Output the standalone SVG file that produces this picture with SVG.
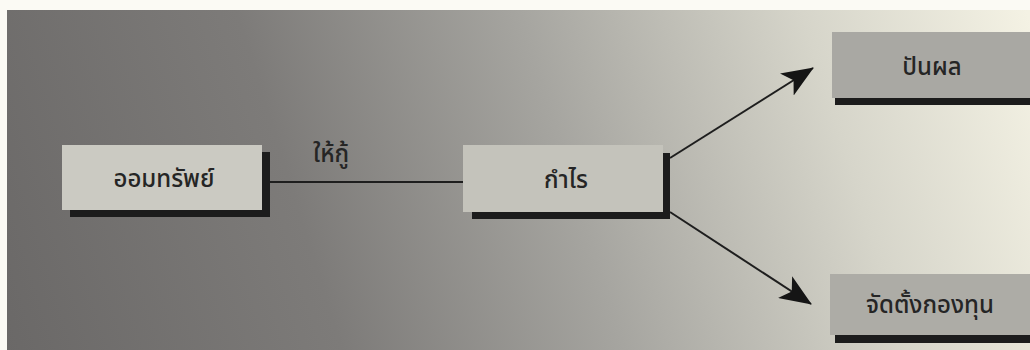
<svg xmlns="http://www.w3.org/2000/svg" width="1030" height="350" viewBox="0 0 1030 350">
  <defs>
    <linearGradient id="bg" x1="0" y1="340" x2="1030" y2="20" gradientUnits="userSpaceOnUse">
      <stop offset="0" stop-color="#6a6867"/>
      <stop offset="0.3" stop-color="#7d7b79"/>
      <stop offset="0.55" stop-color="#a6a5a0"/>
      <stop offset="0.8" stop-color="#d6d5ca"/>
      <stop offset="1" stop-color="#f4f2e4"/>
    </linearGradient>
    <marker id="arrow" viewBox="0 0 32 26" refX="31" refY="13" markerWidth="32" markerHeight="26" markerUnits="userSpaceOnUse" orient="auto">
      <path d="M0,0 L32,13 L0,26 L8,13 Z" fill="#151515"/>
    </marker>
    <style>
      .shadow { fill: #1c1c1c; }
      .label { font-family: "Noto Sans Thai", "Noto Sans", "DejaVu Sans", "Liberation Sans", sans-serif; font-size: 24px; font-weight: 500; fill: #252525; text-anchor: middle; dominant-baseline: central; }
      .conn { stroke: #1e1e1e; stroke-width: 2; fill: none; }
    </style>
  </defs>
  <rect x="0" y="0" width="1030" height="350" fill="#fbfaf4"/>
  <rect x="7" y="10" width="1023" height="340" fill="url(#bg)"/>

  <g id="connectors">
    <line class="conn" x1="270" y1="182" x2="463" y2="182"/>
    <text class="label" x="331" y="155">ให้กู้</text>
    <line class="conn" x1="670" y1="158" x2="813" y2="68" marker-end="url(#arrow)"/>
    <line class="conn" x1="670" y1="212" x2="811" y2="304" marker-end="url(#arrow)"/>
  </g>

  <g id="node-saving">
    <rect class="shadow" x="70" y="152" width="200" height="65"/>
    <rect x="62" y="145" width="200" height="65" fill="#cbcac2"/>
    <text class="label" x="164" y="180">ออมทรัพย์</text>
  </g>

  <g id="node-profit">
    <rect class="shadow" x="472" y="153" width="198" height="66"/>
    <rect x="463" y="145" width="200" height="67" fill="#c4c3bb"/>
    <text class="label" x="566" y="181">กำไร</text>
  </g>

  <g id="node-dividend">
    <rect class="shadow" x="835" y="40" width="200" height="65"/>
    <rect x="832" y="32" width="200" height="66" fill="#a9a8a3"/>
    <text class="label" x="932" y="68">ปันผล</text>
  </g>

  <g id="node-fund">
    <rect class="shadow" x="835" y="282" width="200" height="61"/>
    <rect x="830" y="274" width="202" height="61" fill="#adaca6"/>
    <text class="label" x="930" y="306">จัดตั้งกองทุน</text>
  </g>
</svg>
